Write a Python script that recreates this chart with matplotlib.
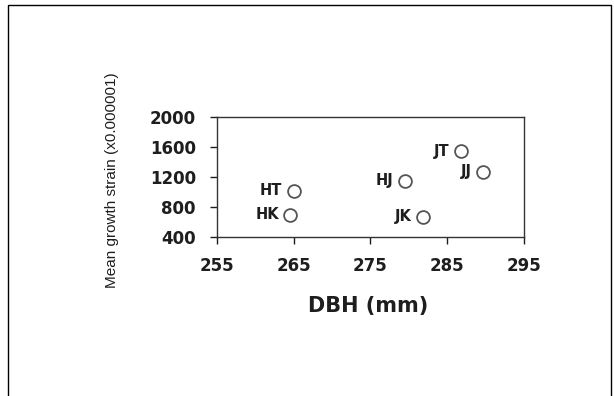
import matplotlib.pyplot as plt
from matplotlib.patches import Rectangle

# stand codes and their values
codes = ['HT', 'HK', 'HJ', 'JK', 'JT', 'JJ']
dbh = [265, 264.6, 279.5, 281.8, 286.8, 289.6]
strain = [1020, 700, 1150, 675, 1540, 1270]

x_ticks = [255, 265, 275, 285, 295]
y_ticks = [400, 800, 1200, 1600, 2000]

ink = '#1e1e1e'

fig = plt.figure(figsize=(6.14, 3.96), dpi=100)
ax = fig.add_axes([216.7 / 614, 1 - 237.3 / 396,
                   (524 - 216.7) / 614, (237.3 - 116.7) / 396])

ax.scatter(dbh, strain, s=85, facecolors='white', edgecolors='#555555',
           linewidths=1.3, zorder=3)
for c, x, y in zip(codes, dbh, strain):
    ax.annotate(c, (x, y), xytext=(-8, 0), textcoords='offset points',
                ha='right', va='center', fontsize=10.5, fontweight='bold',
                family='DejaVu Sans', color=ink)

ax.set_xlim(255, 295)
ax.set_ylim(400, 2000)
ax.set_xticks(x_ticks)
ax.set_yticks(y_ticks)
ax.tick_params(direction='out', length=5, width=1, labelsize=12,
               colors=ink)
ax.tick_params(axis='x', pad=9)
ax.tick_params(axis='y', pad=10)
for lab in ax.get_xticklabels() + ax.get_yticklabels():
    lab.set_fontweight('bold')
    lab.set_family('DejaVu Sans')
for s in ax.spines.values():
    s.set_color('#333333')
    s.set_linewidth(1)

fig.text(368 / 614, 1 - 306 / 396, 'DBH (mm)', ha='center', va='center',
         fontsize=15, fontweight='bold', family='DejaVu Sans', color=ink)
fig.text(112 / 614, 1 - 180 / 396, 'Mean growth strain (x0.000001)',
         rotation=90, ha='center', va='center', fontsize=11,
         family='Liberation Sans', color=ink)

# frame round the figure
fig.patches.append(Rectangle((8 / 614, -0.01), (611 - 8) / 614,
                             1 - 5 / 396 + 0.01, transform=fig.transFigure,
                             fill=False, edgecolor='black', linewidth=1))

fig.savefig('out.png', dpi=100)
